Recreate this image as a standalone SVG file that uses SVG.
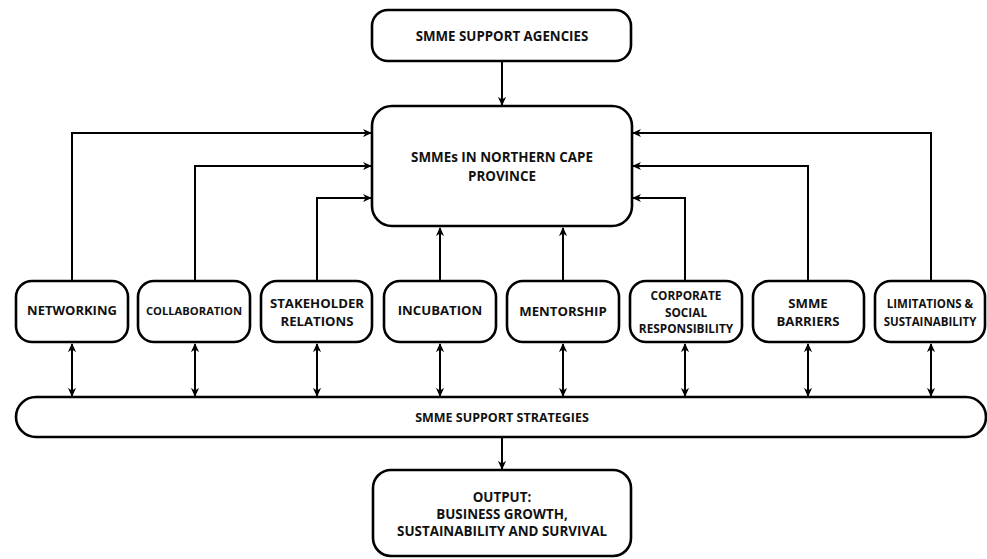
<svg xmlns="http://www.w3.org/2000/svg" width="987" height="559" viewBox="0 0 987 559">
<style>
.box{fill:#fff;stroke:#000;stroke-width:2.6}
.t{font-family:"Open Sans","Liberation Sans",sans-serif;font-weight:700;fill:#111;text-anchor:middle}
.c{fill:none;stroke:#000;stroke-width:2}
</style>
<defs>
<marker id="ah" viewBox="0 0 10 10" refX="9" refY="5" markerWidth="4.5" markerHeight="4.5" orient="auto-start-reverse" markerUnits="strokeWidth">
<path d="M0,0.5 L10,5 L0,9.5 L3,5 Z" fill="#000"/>
</marker>
</defs>
<rect width="987" height="559" fill="#fff"/>
<g id="connectors">
<line class="c" x1="502" y1="61" x2="502" y2="105" marker-end="url(#ah)"/>
<polyline class="c" points="72,281 72,133 371,133" marker-end="url(#ah)"/>
<polyline class="c" points="195,281 195,166 371,166" marker-end="url(#ah)"/>
<polyline class="c" points="317,281 317,198 371,198" marker-end="url(#ah)"/>
<line class="c" x1="440" y1="281" x2="440" y2="228" marker-end="url(#ah)"/>
<line class="c" x1="563" y1="281" x2="563" y2="228" marker-end="url(#ah)"/>
<polyline class="c" points="685,281 685,198 633,198" marker-end="url(#ah)"/>
<polyline class="c" points="808,281 808,166 633,166" marker-end="url(#ah)"/>
<polyline class="c" points="931,281 931,133 633,133" marker-end="url(#ah)"/>
<line class="c" x1="72" y1="344" x2="72" y2="396" marker-start="url(#ah)" marker-end="url(#ah)"/>
<line class="c" x1="195" y1="344" x2="195" y2="396" marker-start="url(#ah)" marker-end="url(#ah)"/>
<line class="c" x1="317" y1="344" x2="317" y2="396" marker-start="url(#ah)" marker-end="url(#ah)"/>
<line class="c" x1="440" y1="344" x2="440" y2="396" marker-start="url(#ah)" marker-end="url(#ah)"/>
<line class="c" x1="563" y1="344" x2="563" y2="396" marker-start="url(#ah)" marker-end="url(#ah)"/>
<line class="c" x1="685" y1="344" x2="685" y2="396" marker-start="url(#ah)" marker-end="url(#ah)"/>
<line class="c" x1="808" y1="344" x2="808" y2="396" marker-start="url(#ah)" marker-end="url(#ah)"/>
<line class="c" x1="931" y1="344" x2="931" y2="396" marker-start="url(#ah)" marker-end="url(#ah)"/>
<line class="c" x1="502" y1="437" x2="502" y2="469" marker-end="url(#ah)"/>
</g>
<g id="agencies">
<rect class="box" x="372" y="10" width="259" height="51" rx="16"/>
<text class="t" x="502" y="41" font-size="13.3">SMME SUPPORT AGENCIES</text>
</g>
<g id="smmes">
<rect class="box" x="372" y="106" width="260" height="120" rx="20"/>
<text class="t" x="502" y="162" font-size="13.4">SMMEs IN NORTHERN CAPE</text>
<text class="t" x="502" y="181" font-size="13.4">PROVINCE</text>
</g>
<g id="networking">
<rect class="box" x="16" y="281" width="112" height="61" rx="16"/>
<text class="t" x="72" y="315" font-size="13">NETWORKING</text>
</g>
<g id="collaboration">
<rect class="box" x="138" y="281" width="112" height="61" rx="16"/>
<text class="t" x="194" y="315" font-size="11.2">COLLABORATION</text>
</g>
<g id="stakeholder">
<rect class="box" x="261" y="281" width="111" height="61" rx="16"/>
<text class="t" x="317" y="308" font-size="13.2">STAKEHOLDER</text>
<text class="t" x="317" y="326" font-size="13.2">RELATIONS</text>
</g>
<g id="incubation">
<rect class="box" x="384" y="281" width="112" height="61" rx="16"/>
<text class="t" x="440" y="315" font-size="13.2">INCUBATION</text>
</g>
<g id="mentorship">
<rect class="box" x="507" y="281" width="112" height="61" rx="16"/>
<text class="t" x="563" y="316" font-size="13.2">MENTORSHIP</text>
</g>
<g id="csr">
<rect class="box" x="630" y="281" width="112" height="61" rx="16"/>
<text class="t" x="686" y="300" font-size="11.8">CORPORATE</text>
<text class="t" x="686" y="317" font-size="11.8">SOCIAL</text>
<text class="t" x="686" y="333" font-size="11.8">RESPONSIBILITY</text>
</g>
<g id="barriers">
<rect class="box" x="753" y="281" width="111" height="61" rx="16"/>
<text class="t" x="808" y="308" font-size="13.2">SMME</text>
<text class="t" x="808" y="326" font-size="13.2">BARRIERS</text>
</g>
<g id="limitations">
<rect class="box" x="875" y="281" width="110" height="61" rx="16"/>
<text class="t" x="930" y="308" font-size="11.5">LIMITATIONS &amp;</text>
<text class="t" x="930" y="326" font-size="11.5">SUSTAINABILITY</text>
</g>
<g id="strategies">
<rect class="box" x="16" y="397" width="970" height="40" rx="20"/>
<text class="t" x="502" y="422" font-size="12.5">SMME SUPPORT STRATEGIES</text>
</g>
<g id="output">
<rect class="box" x="373" y="470" width="258" height="86" rx="18"/>
<text class="t" x="502" y="502" font-size="13.4">OUTPUT:</text>
<text class="t" x="502" y="519" font-size="13.4">BUSINESS GROWTH,</text>
<text class="t" x="502" y="536" font-size="13.4">SUSTAINABILITY AND SURVIVAL</text>
</g>
</svg>
